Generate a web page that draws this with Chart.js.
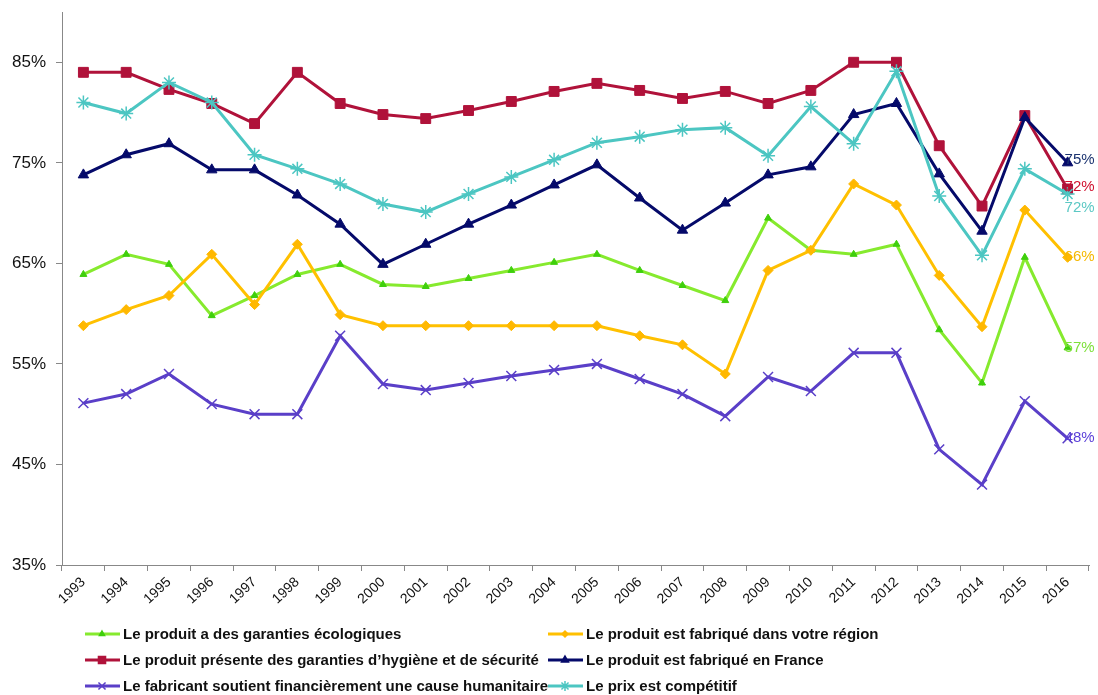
<!DOCTYPE html>
<html lang="fr">
<head>
<meta charset="UTF-8">
<title>Critères d'achat 1993-2016</title>
<script src="https://cdn.jsdelivr.net/npm/chart.js"></script>
<style>
  html, body { margin: 0; padding: 0; background: #fff; }
  #zone { width: 1098px; height: 695px; position: relative; }
</style>
</head>
<body>
<div id="zone"><canvas id="grafico"></canvas></div>

<script>
  // données (en %)
  const annees = ['1993','1994','1995','1996','1997','1998','1999','2000','2001','2002','2003','2004',
                  '2005','2006','2007','2008','2009','2010','2011','2012','2013','2014','2015','2016'];
  const ecologiques = [63.9,65.9,64.9,59.8,61.8,63.9,64.9,62.9,62.7,63.5,64.3,65.1,65.9,64.3,62.8,61.3,69.5,66.3,65.9,66.9,58.4,53.1,65.6,56.6];
  const region      = [58.8,60.4,61.8,65.9,60.9,66.9,59.9,58.8,58.8,58.8,58.8,58.8,58.8,57.8,56.9,54.0,64.3,66.3,72.9,70.8,63.8,58.7,70.3,65.6];
  const hygiene     = [84.0,84.0,82.3,80.9,78.9,84.0,80.9,79.8,79.4,80.2,81.1,82.1,82.9,82.2,81.4,82.1,80.9,82.2,85.0,85.0,76.7,70.7,79.7,72.4];
  const france      = [73.8,75.8,76.9,74.3,74.3,71.8,68.9,64.9,66.9,68.9,70.8,72.8,74.8,71.5,68.3,71.0,73.8,74.6,79.8,80.9,73.9,68.2,79.5,75.0];
  const humanitaire = [51.1,52.0,54.0,51.0,50.0,50.0,57.8,53.0,52.4,53.1,53.8,54.4,55.0,53.5,52.0,49.8,53.7,52.3,56.1,56.1,46.5,43.0,51.3,47.6];
  const prix        = [81.0,79.9,83.0,81.0,75.8,74.4,72.9,70.9,70.1,71.9,73.6,75.3,77.0,77.6,78.3,78.5,75.7,80.6,76.9,84.1,71.7,65.8,74.4,71.9];
  const ticksY = [35, 45, 55, 65, 75, 85];

  const libelles = [
    'Le produit a des garanties écologiques',
    'Le produit est fabriqué dans votre région',
    'Le produit présente des garanties d\u2019hygiène et de sécurité',
    'Le produit est fabriqué en France',
    'Le fabricant soutient financièrement une cause humanitaire',
    'Le prix est compétitif'
  ];

  // style de chaque série (texte = couleur du pourcentage final)
  const series = [
    { data: ecologiques, ligne: '#86ea2e', point: '#3fcf0c', texte: '#7ee03a', forme: 'triangle', taille: 4, decalage: 0 },
    { data: region,      ligne: '#ffc000', point: '#ffb800', texte: '#f5b800', forme: 'rectRot',  taille: 5, decalage: 0 },
    { data: hygiene,     ligne: '#b0123a', point: '#b0123a', texte: '#d0102e', forme: 'rect',     taille: 7, decalage: -2 },
    { data: france,      ligne: '#050a6a', point: '#050a6a', texte: '#1c3470', forme: 'triangle', taille: 6, decalage: -3 },
    { data: humanitaire, ligne: '#5a3fc8', point: '#5a3fc8', texte: '#5a3fd8', forme: 'crossRot', taille: 7, decalage: 0 },
    { data: prix,        ligne: '#4cc6c2', point: '#4cc6c2', texte: '#5cc8c4', forme: 'star',     taille: 7, decalage: 14 }
  ];

  const datasets = series.map((s, i) => ({
    label: libelles[i],
    data: s.data,
    borderColor: s.ligne,
    backgroundColor: s.point,
    pointBackgroundColor: s.point,
    pointBorderColor: s.point,
    pointStyle: s.forme,
    pointRadius: s.taille,
    pointBorderWidth: (s.forme == 'star' || s.forme == 'crossRot') ? 1.5 : 1,
    borderWidth: 3,
    tension: 0,
    order: i == 5 ? 0 : 6 - i
  }));

  // pourcentage écrit au bout de chaque courbe
  const etiquettesFin = {
    id: 'etiquettesFin',
    afterDatasetsDraw(chart) {
      const ctx = chart.ctx;
      ctx.save();
      ctx.font = '15px "Liberation Sans", Arial, sans-serif';
      ctx.textAlign = 'left';
      ctx.textBaseline = 'middle';
      chart.data.datasets.forEach((ds, i) => {
        const pts = chart.getDatasetMeta(i).data;
        const p = pts[pts.length - 1];
        const v = ds.data[ds.data.length - 1];
        ctx.fillStyle = series[i].texte;
        ctx.fillText(Math.round(v) + '%', p.x - 3, p.y + series[i].decalage);
      });
      ctx.restore();
    }
  };

  // légende sur deux colonnes, sous l'axe des années
  const legende = {
    id: 'legende',
    afterDraw(chart) {
      const ctx = chart.ctx;
      const colX = [85, 548];
      const ligneY = [634, 660, 686];
      ctx.save();
      ctx.font = 'bold 15px "Liberation Sans Narrow", "Arial Narrow", sans-serif';
      ctx.textBaseline = 'middle';
      ctx.textAlign = 'left';
      series.forEach((s, i) => {
        const x = colX[i % 2];
        const y = ligneY[Math.floor(i / 2)];
        ctx.strokeStyle = s.ligne;
        ctx.lineWidth = 3;
        ctx.beginPath();
        ctx.moveTo(x, y);
        ctx.lineTo(x + 35, y);
        ctx.stroke();
        ctx.fillStyle = s.point;
        ctx.strokeStyle = s.point;
        ctx.lineWidth = 1.5;
        Chart.helpers.drawPoint(ctx, { pointStyle: s.forme, radius: Math.max(3, s.taille - 2), borderWidth: 1.5 }, x + 17, y);
        ctx.fillStyle = '#111';
        ctx.fillText(libelles[i], x + 38, y + 1);
      });
      ctx.restore();
    }
  };

  new Chart(document.getElementById('grafico'), {
    type: 'line',
    data: { labels: annees, datasets: datasets },
    plugins: [etiquettesFin, legende],
    options: {
      responsive: true,
      maintainAspectRatio: false,
      animation: false,
      layout: { padding: { top: 12, right: 9, left: 0, bottom: 0 } },
      plugins: {
        legend: { display: false },
        tooltip: { enabled: false }
      },
      scales: {
        x: {
          offset: true,
          afterFit(axis) { axis.height = 130; axis.paddingRight = 0; },
          grid: { offset: true, drawOnChartArea: false, tickLength: 6, color: '#888' },
          border: { color: '#888', width: 1 },
          ticks: {
            color: '#111',
            font: { family: '"Liberation Sans", Arial, sans-serif', size: 14 },
            minRotation: 43,
            maxRotation: 43,
            padding: 3,
            autoSkip: false
          }
        },
        y: {
          min: 35,
          max: 90,
          afterFit(axis) { axis.width = 62; axis.paddingTop = 0; axis.paddingBottom = 0; },
          afterBuildTicks(axis) { axis.ticks = ticksY.map(v => ({ value: v })); },
          grid: { drawOnChartArea: false, tickLength: 6, color: '#888' },
          border: { color: '#888', width: 1 },
          ticks: {
            color: '#111',
            font: { family: '"Liberation Sans", Arial, sans-serif', size: 17 },
            padding: 10,
            callback: v => v + '%'
          }
        }
      }
    }
  });
</script>
</body>
</html>
